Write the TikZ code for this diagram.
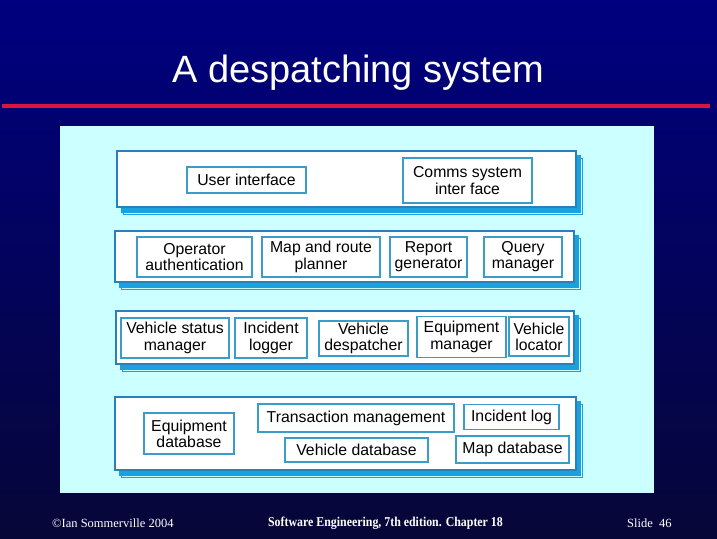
\documentclass[tikz,border=0pt]{standalone}
\usepackage{fontspec}
\setmainfont{Liberation Sans}
\newfontfamily\footfont{Liberation Serif}
\usepackage{xcolor}
\usepackage{tikz}
\usetikzlibrary{shadows}
\definecolor{slidetop}{HTML}{000080}
\definecolor{slidebottom}{HTML}{060638}
\definecolor{rulered}{HTML}{DC1440}
\definecolor{panelcyan}{HTML}{CCFFFF}
\definecolor{layerblue}{HTML}{2A80BA}
\definecolor{unitblue}{HTML}{3A9CC8}
\definecolor{shadowblue}{HTML}{1AA2E0}
\newcommand{\unitfont}{\fontsize{15.8}{16.2}\selectfont}
\tikzset{
  layer/.style={draw=layerblue, line width=1.6pt, fill=white, inner sep=0pt,
    copy shadow={shadow xshift=6.5pt, shadow yshift=-7pt, fill=panelcyan, draw=shadowblue, line width=1pt},
    copy shadow={shadow xshift=4.5pt, shadow yshift=-5pt, fill=shadowblue, draw=shadowblue}},
  unit/.style={draw=unitblue, line width=1.4pt, fill=white, align=center, inner sep=0pt, font=\unitfont},
  foot/.style={text=white, font=\footfont\fontsize{12.5}{14}\selectfont, inner sep=0pt}
}

\begin{document}
\begin{tikzpicture}[x=1pt,y=-1pt]
  \useasboundingbox (0,0) rectangle (717,538);
  \shade[top color=slidetop, bottom color=slidebottom] (0,0) rectangle (717,538);
  % title and rule
  \node[text=white, font=\fontsize{38}{40}\selectfont, inner sep=0pt] (title) at (358,73) {A despatching system};
  \draw[rulered, line width=4pt] (2,106) -- (710,106);
  \fill[panelcyan] (60,126) rectangle (654,493);
  % layers
  \node[layer, minimum width=459pt, minimum height=56pt] (uilayer) at (346.5,179) {};
  \node[layer, minimum width=459pt, minimum height=51pt] (authlayer) at (344.5,256.5) {};
  \node[layer, minimum width=458pt, minimum height=53pt] (corelayer) at (345,337.5) {};
  \node[layer, minimum width=461pt, minimum height=73pt] (dblayer) at (345.5,433.5) {};
  % user interface layer
  \node[unit, minimum width=119pt, minimum height=26pt] (userif) at (246.5,180) {User interface};
  \node[unit, minimum width=129pt, minimum height=45pt] (commsif) at (467.5,180.5) {Comms system\\inter face};
  % authentication and planning layer
  \node[unit, minimum width=115pt, minimum height=40pt] (opauth) at (194.5,257) {Operator\\authentication};
  \node[unit, minimum width=118pt, minimum height=40pt] (mapplan) at (321,257) {Map and route\\planner};
  \node[unit, minimum width=77pt, minimum height=40pt] (reportgen) at (428.5,257) {Report\\generator};
  \node[unit, minimum width=78pt, minimum height=40pt] (querymgr) at (523,257) {Query\\manager};
  % despatching layer
  \node[unit, minimum width=108pt, minimum height=40pt] (vstatus) at (175,338) {Vehicle status\\manager};
  \node[unit, minimum width=72pt, minimum height=40pt] (inclogger) at (271,338) {Incident\\logger};
  \node[unit, minimum width=89pt, minimum height=35pt] (vdesp) at (363.5,338.5) {Vehicle\\despatcher};
  \node[unit, minimum width=89pt, minimum height=41pt] (equipmgr) at (461.5,337) {Equipment\\manager};
  \node[unit, minimum width=60pt, minimum height=39pt] (vlocator) at (539,336.5) {Vehicle\\locator};
  % database layer
  \node[unit, minimum width=90pt, minimum height=41pt] (equipdb) at (189,433.5) {Equipment\\database};
  \node[unit, minimum width=196pt, minimum height=28pt] (transmgmt) at (356,418) {Transaction management};
  \node[unit, minimum width=95pt, minimum height=25pt] (inclog) at (511.5,417) {Incident log};
  \node[unit, minimum width=143pt, minimum height=24pt] (vehdb) at (356.5,450) {Vehicle database};
  \node[unit, minimum width=113pt, minimum height=27pt] (mapdb) at (512.5,449.5) {Map database};
  % footer
  \node[foot, anchor=west] (copyright) at (52,523) {\textcopyright Ian Sommerville 2004};
  \node[foot, font=\footfont\bfseries\fontsize{13.5}{15}\selectfont, xscale=0.88] (bookref) at (385.5,523) {Software Engineering, 7th edition. Chapter 18};
  \node[foot, anchor=west] (slideno) at (627,523) {Slide\ \ 46};
\end{tikzpicture}
\end{document}
